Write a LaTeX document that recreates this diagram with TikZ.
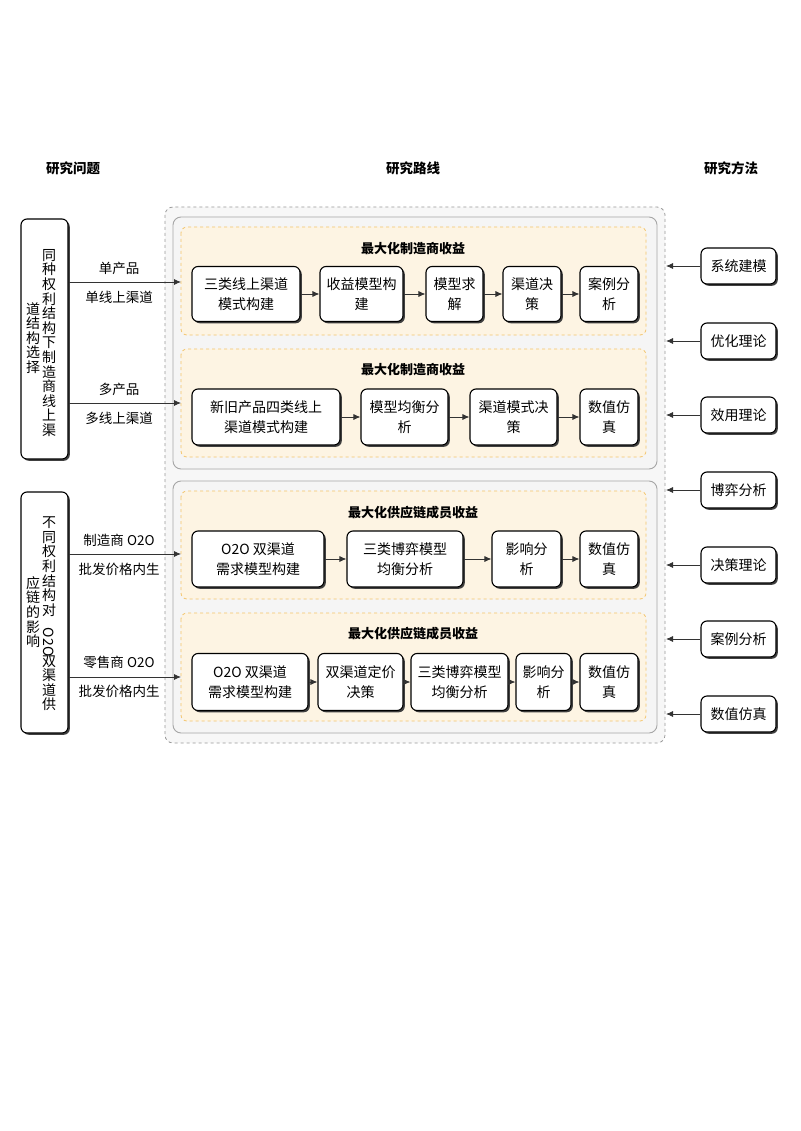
\documentclass[tikz,border=0pt]{standalone}
\usepackage{fontspec}
\setmainfont{Noto Sans CJK SC}
\usetikzlibrary{arrows.meta,shadows}
\definecolor{obg}{HTML}{FDF4E3}
\definecolor{odash}{HTML}{F3C46A}
\begin{document}
\begin{tikzpicture}[x=1pt,y=-1pt,
  bx/.style={draw=black,line width=1.1pt,rounded corners=6pt,fill=white,align=center,inner sep=1pt,
    font=\fontsize{14}{20}\selectfont,drop shadow={shadow xshift=1.8pt,shadow yshift=-1.8pt,opacity=1,fill=black!75}},
  sub/.style={draw=odash,dashed,line width=0.8pt,fill=obg,rounded corners=6pt},
  ttl/.style={font=\bfseries\fontsize{13}{14}\selectfont},
  hdr/.style={font=\bfseries\fontsize{13.5}{14}\selectfont},
  lab/.style={font=\fontsize{13.5}{14}\selectfont},
  vt/.style={align=center,inner sep=0pt,font=\fontsize{14}{14.6}\selectfont},
  ar/.style={-{Latex[length=7pt,width=6pt]},line width=0.8pt,black!80}]
\useasboundingbox (0,0) rectangle (800,1131);
\node[hdr] (h1) at (73,168) {研究问题};
\node[hdr] (h2) at (413,168) {研究路线};
\node[hdr] (h3) at (731,168) {研究方法};
% outer
\draw[gray!80,dashed,line width=0.8pt,fill=black!3,rounded corners=8pt] (165,207) rectangle (665,743);
\coordinate (ob) at (666,0);
\draw[black!35,line width=0.9pt,fill=black!4,rounded corners=8pt] (173,217) rectangle (657,469);
\draw[black!35,line width=0.9pt,fill=black!4,rounded corners=8pt] (173,481) rectangle (657,733);
\draw[sub] (181,227) rectangle (646,335);
\draw[sub] (181,349) rectangle (646,457);
\draw[sub] (181,491) rectangle (646,599);
\draw[sub] (181,613) rectangle (646,721);
\node[ttl] (t1) at (413,249) {最大化制造商收益};
\node[ttl] (t2) at (413,370) {最大化制造商收益};
\node[ttl] (t3) at (413,513) {最大化供应链成员收益};
\node[ttl] (t4) at (413,634) {最大化供应链成员收益};
% row1
\node[bx,minimum width=108,minimum height=55] (a1) at (246,294) {三类线上渠道\\模式构建};
\node[bx,minimum width=83,minimum height=55] (a2) at (361.5,294) {收益模型构\\建};
\node[bx,minimum width=57,minimum height=55] (a3) at (454.5,294) {模型求\\解};
\node[bx,minimum width=58,minimum height=55] (a4) at (532,294) {渠道决\\策};
\node[bx,minimum width=58,minimum height=55] (a5) at (609,294) {案例分\\析};
% row2
\node[bx,minimum width=148,minimum height=56] (b1) at (266,417) {新旧产品四类线上\\渠道模式构建};
\node[bx,minimum width=87,minimum height=56] (b2) at (404.5,417) {模型均衡分\\析};
\node[bx,minimum width=87,minimum height=56] (b3) at (513.5,417) {渠道模式决\\策};
\node[bx,minimum width=58,minimum height=56] (b4) at (609,417) {数值仿\\真};
% row3
\node[bx,minimum width=132,minimum height=56] (c1) at (258,559) {O2O 双渠道\\需求模型构建};
\node[bx,minimum width=116,minimum height=56] (c2) at (405,559) {三类博弈模型\\均衡分析};
\node[bx,minimum width=69,minimum height=56] (c3) at (526.5,559) {影响分\\析};
\node[bx,minimum width=58,minimum height=56] (c4) at (609,559) {数值仿\\真};
% row4
\node[bx,minimum width=116,minimum height=57] (d1) at (250,682) {O2O 双渠道\\需求模型构建};
\node[bx,minimum width=85,minimum height=57] (d2) at (360.5,682) {双渠道定价\\决策};
\node[bx,minimum width=97,minimum height=57] (d3) at (459.5,682) {三类博弈模型\\均衡分析};
\node[bx,minimum width=55,minimum height=57] (d4) at (543.5,682) {影响分\\析};
\node[bx,minimum width=58,minimum height=57] (d5) at (609,682) {数值仿\\真};
\foreach \u/\v in {a1/a2,a2/a3,a3/a4,a4/a5,b1/b2,b2/b3,b3/b4,c1/c2,c2/c3,c3/c4,d1/d2,d2/d3,d3/d4,d4/d5}
  \draw[ar] (\u) -- (\v);
% left boxes
\node[bx,minimum width=47,minimum height=240] (L1) at (44.5,339) {};
\node[bx,minimum width=47,minimum height=241] (L2) at (44.5,612.5) {};
\node[vt] (L1a) at (49,343) {同\\种\\权\\利\\结\\构\\下\\制\\造\\商\\线\\上\\渠};
\node[vt] (L1b) at (33,338) {道\\结\\构\\选\\择};
\node[vt] (L2a) at (49,614) {不\\同\\权\\利\\结\\构\\对\\[-2pt]\rotatebox{-90}{O2O}\\[-2pt]双\\渠\\道\\供};
\node[vt] (L2b) at (33,612) {应\\链\\的\\影\\响};
\coordinate (e1) at (181,282);
\coordinate (e2) at (181,403);
\coordinate (e3) at (181,554);
\coordinate (e4) at (181,677);
\draw[ar] (L1.east|-e1) -- (e1);
\draw[ar] (L1.east|-e2) -- (e2);
\draw[ar] (L2.east|-e3) -- (e3);
\draw[ar] (L2.east|-e4) -- (e4);
\node[lab] (l1) at (119,268) {单产品};
\node[lab] (l2) at (119,297) {单线上渠道};
\node[lab] (l3) at (119,389) {多产品};
\node[lab] (l4) at (119,418) {多线上渠道};
\node[lab] (l5) at (119,540) {制造商 O2O};
\node[lab] (l6) at (119,569) {批发价格内生};
\node[lab] (l7) at (119,662) {零售商 O2O};
\node[lab] (l8) at (119,691) {批发价格内生};
% right
\foreach \n/\y/\t in {r1/266/系统建模,r2/341/优化理论,r3/415/效用理论,r4/490/博弈分析,r5/565/决策理论,r6/639/案例分析,r7/714/数值仿真}{
  \node[bx,minimum width=75,minimum height=36] (\n) at (738.5,\y) {\t};
  \draw[ar] (\n.west) -- (ob|-\n.west);
}
\end{tikzpicture}
\end{document}
